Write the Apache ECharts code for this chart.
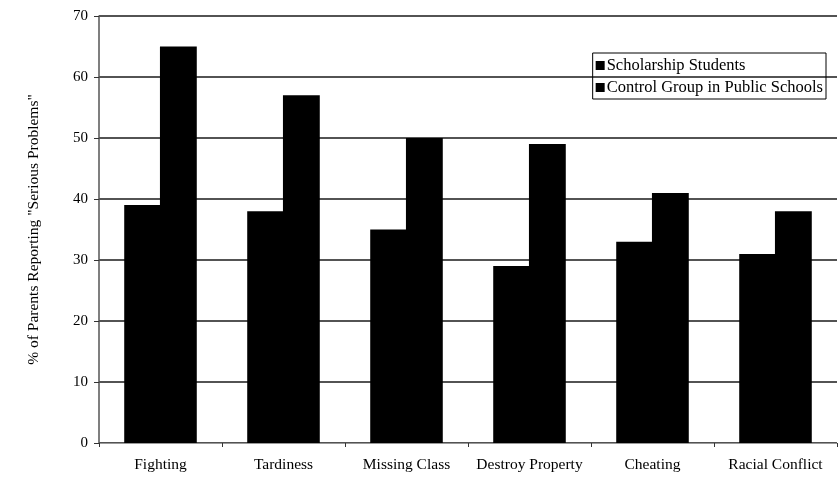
<!DOCTYPE html>
<html>
<head>
<meta charset="utf-8">
<script src="https://cdn.jsdelivr.net/npm/echarts@6/dist/echarts.min.js"></script>
<style>
  html, body { margin: 0; padding: 0; background: #fff; }
  #chart { width: 838px; height: 477px; }
</style>
</head>
<body>
<div id="chart"></div>
<script>
// Problem categories and percentages reported by parents
const categories = ['Fighting', 'Tardiness', 'Missing Class', 'Destroy Property', 'Cheating', 'Racial Conflict'];
const scholarshipStudents = [39, 38, 35, 29, 33, 31];
const controlGroup = [65, 57, 50, 49, 41, 38];
const seriesNames = ['Scholarship Students', 'Control Group in Public Schools'];
const yAxisTitle = '% of Parents Reporting "Serious Problems"';

const serif = '"Liberation Serif", "DejaVu Serif", serif';

const chart = echarts.init(document.getElementById('chart'), null, { renderer: 'canvas' });

chart.setOption({
  backgroundColor: '#ffffff',
  animation: false,
  grid: { left: 99, right: 1, top: 16, bottom: 34, containLabel: false },
  legend: {
    data: seriesNames,
    orient: 'vertical',
    right: 12,
    top: 53,
    itemWidth: 9,
    itemHeight: 9,
    itemGap: 5,
    padding: [4, 3, 3, 3],
    borderColor: '#000',
    borderWidth: 1,
    backgroundColor: 'transparent',
    icon: 'rect',
    textStyle: { fontFamily: serif, fontSize: 16.5, color: '#000', padding: [0, 0, 0, -3] }
  },
  xAxis: {
    type: 'category',
    data: categories,
    axisLine: { show: true, lineStyle: { color: '#999', width: 1 } },
    axisTick: { show: true, interval: 0, alignWithLabel: false, length: 4, lineStyle: { color: '#333' } },
    axisLabel: { interval: 0, fontFamily: serif, fontSize: 15.5, color: '#000', margin: 14 }
  },
  yAxis: {
    type: 'value',
    min: 0,
    max: 70,
    interval: 10,
    name: yAxisTitle,
    nameLocation: 'middle',
    nameGap: 57,
    nameRotate: 90,
    nameTextStyle: { fontFamily: serif, fontSize: 15.5, color: '#000' },
    axisLine: { show: true, lineStyle: { color: '#555', width: 1.5 } },
    axisTick: { show: true, length: 5, lineStyle: { color: '#333' } },
    axisLabel: { fontFamily: serif, fontSize: 15, color: '#000', margin: 11 },
    splitLine: { show: true, lineStyle: { color: '#1a1a1a', width: 1.5 } }
  },
  series: [
    {
      name: seriesNames[0],
      type: 'bar',
      data: scholarshipStudents,
      itemStyle: { color: '#000' },
      barGap: '-3%',
      barCategoryGap: '41%'
    },
    {
      name: seriesNames[1],
      type: 'bar',
      data: controlGroup,
      itemStyle: { color: '#000' },
      barGap: '-3%',
      barCategoryGap: '41%'
    }
  ]
});
</script>
</body>
</html>
